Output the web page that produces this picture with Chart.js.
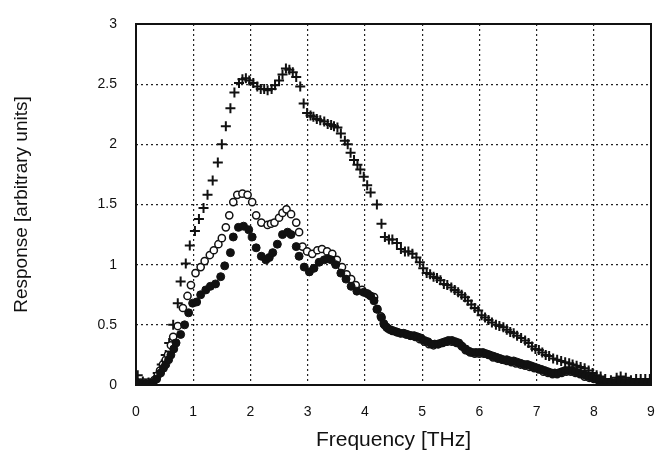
<!DOCTYPE html>
<html>
<head>
<meta charset="utf-8" />
<title>Response vs frequency</title>
<script src="https://cdn.jsdelivr.net/npm/chart.js@4.4.1/dist/chart.umd.min.js"></script>
<style>
  html, body { margin: 0; padding: 0; background: #fff; }
  #wrap { width: 658px; height: 457px; }
</style>
</head>
<body>
<div id="wrap"><canvas id="myChart" width="658" height="457"></canvas></div>
<script>
// crosses (+)
var xCross = [0.03,0.12,0.22,0.32,0.38,0.45,0.52,0.58,0.65,0.73,0.78,0.87,0.94,1.03,1.10,1.18,1.25,1.34,1.43,1.50,
  1.57,1.65,1.72,1.80,1.86,1.92,1.98,2.05,2.12,2.18,2.24,2.30,2.37,2.43,2.50,2.56,2.62,2.68,2.74,2.80,
  2.87,2.93,2.99,3.05,3.10,3.16,3.22,3.29,3.35,3.41,3.46,3.52,3.58,3.65,3.70,3.75,3.81,3.87,3.92,3.98,
  4.04,4.10,4.21,4.29,4.35,4.42,4.48,4.56,4.63,4.70,4.76,4.83,4.90,4.96,5.02,5.08,5.14,5.20,5.26,5.32,
  5.38,5.44,5.51,5.57,5.63,5.69,5.75,5.80,5.86,5.92,5.98,6.04,6.10,6.16,6.22,6.29,6.35,6.42,6.48,6.54,
  6.60,6.66,6.73,6.80,6.86,6.92,6.98,7.04,7.10,7.16,7.22,7.29,7.36,7.43,7.50,7.57,7.63,7.70,7.77,7.84,
  7.91,7.98,8.05,8.12,8.20,8.30,8.40,8.47,8.56,8.65,8.74,8.82,8.90,8.98];
var yCross = [0.08,0.03,0.02,0.04,0.10,0.17,0.25,0.35,0.50,0.68,0.86,1.01,1.16,1.28,1.38,1.47,1.58,1.70,1.85,2.00,
  2.15,2.30,2.43,2.51,2.54,2.55,2.53,2.51,2.48,2.46,2.46,2.45,2.46,2.49,2.53,2.58,2.63,2.62,2.60,2.56,
  2.48,2.34,2.26,2.24,2.23,2.21,2.20,2.19,2.17,2.16,2.15,2.14,2.09,2.03,2.00,1.93,1.87,1.83,1.79,1.73,
  1.66,1.60,1.50,1.34,1.23,1.21,1.21,1.18,1.13,1.11,1.11,1.09,1.06,1.02,0.97,0.93,0.92,0.90,0.89,0.87,
  0.84,0.83,0.81,0.79,0.77,0.75,0.73,0.70,0.67,0.64,0.62,0.58,0.56,0.54,0.52,0.50,0.49,0.48,0.46,0.44,
  0.43,0.41,0.39,0.37,0.35,0.32,0.30,0.29,0.27,0.25,0.24,0.22,0.21,0.20,0.19,0.18,0.17,0.16,0.15,0.14,
  0.12,0.10,0.08,0.07,0.05,0.04,0.06,0.07,0.06,0.04,0.05,0.05,0.05,0.05];

// open circles
var xOpen = [0.02,0.08,0.14,0.20,0.26,0.32,0.38,0.42,0.47,0.52,0.56,0.61,0.65,0.73,0.82,0.90,0.96,1.04,1.13,1.20,
  1.29,1.36,1.44,1.50,1.57,1.63,1.70,1.77,1.86,1.95,2.03,2.10,2.19,2.30,2.36,2.42,2.50,2.56,2.63,2.71,
  2.80,2.85,2.91,2.99,3.08,3.17,3.25,3.34,3.43,3.51,3.60,3.68,3.76,3.84,3.95,4.07,4.16,4.22,4.28,4.34,
  4.40,4.48,4.56,4.64,4.72,4.80,4.88,4.96,5.04,5.12,5.20,5.28,5.36,5.44,5.52,5.60,5.68,5.76,5.84,5.92,
  6.00,6.08,6.16,6.24,6.32,6.40,6.48,6.56,6.64,6.72,6.80,6.88,6.96,7.04,7.12,7.20,7.28,7.36,7.44,7.52,
  7.60,7.68,7.76,7.84,7.92,8.00,8.08,8.16,8.30,8.45,8.60,8.75,8.90];
var yOpen = [0.02,0.02,0.02,0.02,0.02,0.04,0.08,0.12,0.17,0.21,0.25,0.33,0.40,0.49,0.64,0.74,0.83,0.93,0.98,1.03,
  1.08,1.12,1.17,1.22,1.31,1.41,1.52,1.58,1.59,1.58,1.52,1.41,1.35,1.33,1.34,1.35,1.39,1.43,1.46,1.42,
  1.35,1.27,1.15,1.11,1.09,1.12,1.13,1.11,1.09,1.04,0.98,0.92,0.88,0.83,0.79,0.75,0.73,0.63,0.57,0.50,
  0.47,0.45,0.44,0.43,0.42,0.41,0.40,0.38,0.36,0.34,0.33,0.34,0.35,0.36,0.36,0.35,0.33,0.29,0.27,0.26,
  0.26,0.26,0.25,0.23,0.22,0.21,0.20,0.19,0.18,0.17,0.16,0.15,0.14,0.13,0.11,0.10,0.09,0.09,0.10,0.11,
  0.11,0.10,0.09,0.07,0.06,0.05,0.04,0.03,0.02,0.02,0.02,0.02,0.02];

// filled circles
var xFilled = [0.02,0.07,0.12,0.18,0.24,0.30,0.36,0.43,0.48,0.52,0.57,0.61,0.66,0.70,0.78,0.85,0.92,0.99,1.06,1.13,
  1.22,1.30,1.39,1.48,1.55,1.65,1.70,1.79,1.88,1.97,2.03,2.10,2.19,2.27,2.33,2.39,2.47,2.56,2.65,2.71,
  2.80,2.85,2.94,3.03,3.11,3.20,3.29,3.35,3.41,3.49,3.58,3.67,3.76,3.86,3.98,4.04,4.10,4.16,4.21,4.29,
  4.33,4.38,4.44,4.50,4.56,4.62,4.68,4.74,4.80,4.86,4.92,4.98,5.04,5.10,5.16,5.22,5.28,5.34,5.40,5.46,
  5.52,5.58,5.64,5.70,5.76,5.82,5.88,5.94,6.00,6.06,6.12,6.18,6.24,6.30,6.36,6.42,6.48,6.54,6.60,6.66,
  6.72,6.78,6.84,6.90,6.96,7.02,7.08,7.14,7.20,7.26,7.32,7.38,7.44,7.50,7.56,7.62,7.68,7.74,7.80,7.86,
  7.92,7.98,8.04,8.10,8.16,8.22,8.30,8.38,8.46,8.54,8.62,8.70,8.78,8.86,8.94,9.00];
var yFilled = [0.02,0.01,0.01,0.01,0.01,0.02,0.05,0.10,0.14,0.17,0.21,0.25,0.30,0.35,0.42,0.50,0.60,0.68,0.69,0.75,
  0.79,0.82,0.84,0.90,0.99,1.10,1.23,1.31,1.32,1.29,1.23,1.14,1.07,1.04,1.06,1.10,1.17,1.25,1.27,1.25,
  1.15,1.07,0.98,0.94,0.97,1.02,1.04,1.05,1.04,1.00,0.93,0.88,0.82,0.78,0.77,0.76,0.74,0.70,0.63,0.56,
  0.51,0.48,0.46,0.45,0.44,0.43,0.43,0.42,0.41,0.41,0.40,0.39,0.37,0.36,0.34,0.34,0.34,0.35,0.36,0.37,
  0.37,0.36,0.35,0.32,0.30,0.28,0.27,0.27,0.27,0.27,0.26,0.25,0.24,0.23,0.22,0.21,0.21,0.20,0.20,0.19,
  0.18,0.17,0.17,0.16,0.15,0.14,0.13,0.12,0.11,0.10,0.10,0.10,0.11,0.12,0.12,0.12,0.11,0.10,0.09,0.08,
  0.07,0.06,0.05,0.04,0.03,0.02,0.02,0.02,0.03,0.02,0.02,0.02,0.02,0.02,0.02,0.02];

var xTicks = [0,1,2,3,4,5,6,7,8,9];
var yTicks = [0,0.5,1,1.5,2,2.5,3];

function pts(xs, ys) {
  var out = [];
  for (var i = 0; i < xs.length; i++) out.push({x: xs[i], y: ys[i]});
  return out;
}

// solid frame round the plot area
var frame = {
  id: 'frame',
  afterDraw: function(chart) {
    var a = chart.chartArea, c = chart.ctx;
    c.save();
    c.strokeStyle = '#111';
    c.lineWidth = 2;
    c.strokeRect(a.left, a.top, a.right - a.left, a.bottom - a.top);
    c.restore();
  }
};

var tickFont = {family: "'Liberation Sans', Arial, sans-serif", size: 14};
var plain = function(v) { return String(v); };

var ctx = document.getElementById('myChart');
var myChart = new Chart(ctx, {
  type: 'scatter',
  data: {
    datasets: [{
      label: 'cross',
      order: 2,
      data: pts(xCross, yCross),
      pointStyle: 'cross',
      pointRadius: 5,
      borderColor: '#111',
      pointBorderWidth: 2
    }, {
      label: 'open',
      order: 1,
      data: pts(xOpen, yOpen),
      pointStyle: 'circle',
      pointRadius: 3.6,
      backgroundColor: '#fff',
      borderColor: '#111',
      pointBorderWidth: 1.5
    }, {
      label: 'filled',
      order: 0,
      data: pts(xFilled, yFilled),
      pointStyle: 'circle',
      pointRadius: 4,
      backgroundColor: '#111',
      borderColor: '#111',
      pointBorderWidth: 1
    }]
  },
  options: {
    responsive: false,
    animation: false,
    layout: {padding: {top: 24, right: 2, left: 0, bottom: 0}},
    plugins: {legend: {display: false}, tooltip: {enabled: false}},
    scales: {
      x: {
        type: 'linear', min: 0, max: 9,
        afterBuildTicks: function(s) { s.ticks = xTicks.map(function(v) { return {value: v}; }); },
        afterFit: function(s) { s.height = 72; s.paddingLeft = 0; s.paddingRight = 0; },
        ticks: {color: '#111', font: tickFont, padding: 19, callback: plain},
        grid: {color: '#222', lineWidth: 1.2, drawTicks: false},
        border: {display: false, dash: [2, 3]},
        title: {display: true, text: 'Frequency [THz]', color: '#111',
          font: {family: "'Liberation Sans', Arial, sans-serif", size: 21}, padding: {top: 0, bottom: 4}}
      },
      y: {
        type: 'linear', min: 0, max: 3,
        afterBuildTicks: function(s) { s.ticks = yTicks.map(function(v) { return {value: v}; }); },
        afterFit: function(s) { s.width = 136; s.paddingTop = 0; s.paddingBottom = 0; },
        ticks: {color: '#111', font: tickFont, padding: 19, callback: plain},
        grid: {color: '#222', lineWidth: 1.2, drawTicks: false},
        border: {display: false, dash: [2, 3]},
        title: {display: true, text: 'Response [arbitrary units]', color: '#111',
          font: {family: "'Liberation Sans', Arial, sans-serif", size: 19}, padding: {top: 10, bottom: 0}}
      }
    }
  },
  plugins: [frame]
});
</script>
</body>
</html>
